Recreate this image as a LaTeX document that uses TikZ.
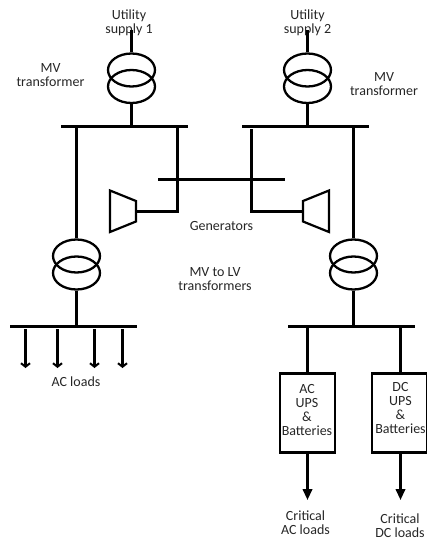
\documentclass[tikz,border=0pt]{standalone}
\usepackage{fontspec}
\setmainfont{Carlito}
\usetikzlibrary{arrows.meta, positioning, shapes}

\begin{document}
\begin{tikzpicture}[
    x=1pt, y=-1pt,
    coil/.style={ellipse, draw, line width=2.3pt, minimum width=47pt, minimum height=33pt, inner sep=0pt},
    bus/.style={rectangle, fill=black, minimum width=127pt, minimum height=2.6pt, inner sep=0pt},
    ups/.style={rectangle, draw, line width=2.6pt, minimum width=55pt, minimum height=79pt, inner sep=0pt},
    label/.style={align=center, font=\fontsize{14}{14}\selectfont, text=black!85, inner sep=0pt},
    wire/.style={line width=2.3pt},
    gen/.style={line width=2.2pt, line join=miter},
    load/.style={line width=2.3pt, -{Straight Barb[length=3.5pt, width=9pt, line width=2pt]}},
    critical/.style={line width=2.3pt, -{Triangle[length=11pt, width=9.5pt]}}
  ]
    \useasboundingbox (0,0) rectangle (427,543);

    % labels
    \node[label] (util1) at (129,23) {Utility\\supply 1};
    \node[label] (util2) at (307.5,23) {Utility\\supply 2};
    \node[label] (mv1) at (50.5,75) {MV\\transformer};
    \node[label] (mv2) at (384,84) {MV\\transformer};
    \node[label] (gens) at (221.5,226) {Generators};
    \node[label] (mvlv) at (215,279) {MV to LV\\transformers};
    \node[label] (acload) at (76,382) {AC loads};
    \node[label] (crit1) at (305.5,523) {Critical\\AC loads};
    \node[label] (crit2) at (400,526) {Critical\\DC loads};

    % transformers
    \node[coil] (t1a) at (131.5,70) {};
    \node[coil] (t1b) at (131.5,86.5) {};
    \node[coil] (t2a) at (307.5,70) {};
    \node[coil] (t2b) at (307.5,86.5) {};
    \node[coil] (t3a) at (76.5,256) {};
    \node[coil] (t3b) at (76.5,273) {};
    \node[coil] (t4a) at (353.5,256) {};
    \node[coil] (t4b) at (353.5,273) {};

    % busbars
    \node[bus] (bus1) at (124.5,126.5) {};
    \node[bus] (bus2) at (305,126.5) {};
    \node[bus] (tie) at (221.5,179.5) {};
    \node[bus] (bus3) at (73.5,326.5) {};
    \node[bus] (bus4) at (351.5,326.5) {};

    % ups boxes
    \node[ups] (upsac) at (307.5,413) {};
    \node[ups] (upsdc) at (399.5,413) {};
    \node[label] (upsactxt) at (307,410.5) {AC\\UPS\\\&\\Batteries};
    \node[label] (upsdctxt) at (400.5,408) {DC\\UPS\\\&\\Batteries};

    % generators
    \draw[gen] (110,190.5) -- (136,201) -- (136,221.5) -- (110,232) -- cycle;
    \draw[gen] (329,190.5) -- (303,201) -- (303,221.5) -- (329,232) -- cycle;
    \coordinate (g1) at (136,211.5);
    \coordinate (g2) at (303,211.5);

    % free ends
    \coordinate (in1) at (131.5,30);
    \coordinate (in2) at (307.5,30);
    \coordinate (c1) at (177.5,128);
    \coordinate (c2) at (251.5,129);
    \coordinate (o1) at (307.5,500);
    \coordinate (o2) at (400.5,500);

    \draw[wire] (in1) -- (t1a.north);
    \draw[wire] (in2) -- (t2a.north);
    \draw[wire] (t1b.south) -- (t1b.south |- bus1.north);
    \draw[wire] (t2b.south) -- (t2b.south |- bus2.north);
    \draw[wire] (t3a.north |- bus1.south) -- (t3a.north);
    \draw[wire] (t4a.north |- bus2.south) -- (t4a.north);
    \draw[wire] (t3b.south) -- (t3b.south |- bus3.north);
    \draw[wire] (t4b.south) -- (t4b.south |- bus4.north);
    \draw[wire] (c1) |- (g1);
    \draw[wire] (c2) |- (g2);
    \draw[wire] (upsac.north |- bus4.south) -- (upsac.north);
    \draw[wire] (o2 |- bus4.south) -- (o2 |- upsdc.north);

    \foreach \x [count=\i] in {25.5,57.5,94.5,122.5}
      \draw[load] (\x,329) -- (\x,368);

    \draw[critical] (upsac.south) -- (o1);
    \draw[critical] (o2 |- upsdc.south) -- (o2);
  \end{tikzpicture}
\end{document}
